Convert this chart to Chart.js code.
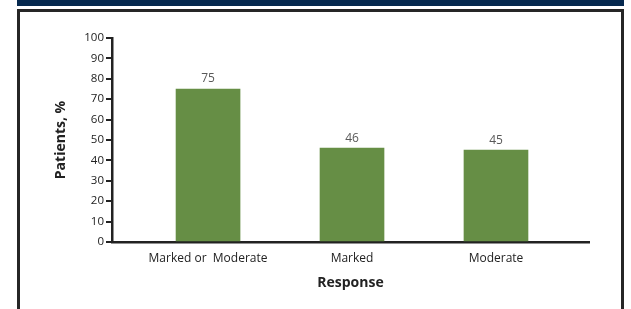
<!DOCTYPE html>
<html lang="en">
<head>
    <meta charset="UTF-8">
    <title>Patients by Response</title>
    <script src="https://cdn.jsdelivr.net/npm/chart.js"></script>
    <style>
        body { margin: 0; width: 631px; height: 309px; background: #fff; position: relative; overflow: hidden; }
        .band { position: absolute; left: 17px; top: 0; width: 607px; height: 6px; background: #06294f; }
        .frame { position: absolute; left: 17px; top: 9px; width: 601px; height: 310px;
                 border: 3px solid #262626; border-bottom: none; }
        .chart-box { position: absolute; left: 0; top: 0; width: 631px; height: 309px; }
    </style>
</head>
<body>
    <div class="band"></div>
    <div class="frame"></div>
    <div class="chart-box">
        <canvas id="barChart" width="631" height="309"></canvas>
    </div>

    <script>
        // Chart data
        const categories = ['Marked or  Moderate', 'Marked', 'Moderate'];
        const patientPct = [75, 46, 45];
        const yTicks = [0, 10, 20, 30, 40, 50, 60, 70, 80, 90, 100];

        const fontFamily = '"Open Sans", Lato, sans-serif';

        // Value labels on top of the bars
        const valueLabels = {
            id: 'valueLabels',
            afterDatasetsDraw(chart) {
                const ctx = chart.ctx;
                const meta = chart.getDatasetMeta(0);
                ctx.save();
                ctx.font = '12px ' + fontFamily;
                ctx.fillStyle = '#595959';
                ctx.textAlign = 'center';
                ctx.textBaseline = 'bottom';
                meta.data.forEach((bar, i) => {
                    ctx.fillText(patientPct[i], bar.x, bar.y - 4);
                });
                ctx.restore();
            }
        };

        const ctx = document.getElementById('barChart').getContext('2d');
        new Chart(ctx, {
            type: 'bar',
            data: {
                datasets: [{
                    data: patientPct.map((v, i) => ({ x: i, y: v })),
                    backgroundColor: '#668e45',
                    barThickness: 64
                }]
            },
            options: {
                responsive: false,
                animation: false,
                layout: { padding: { left: 0, right: 42, top: 38, bottom: 0 } },
                plugins: { legend: { display: false }, tooltip: { enabled: false } },
                scales: {
                    x: {
                        type: 'linear',
                        offset: false,
                        min: -0.667,
                        max: 2.646,
                        afterBuildTicks: (scale) => {
                            scale.ticks = categories.map((c, i) => ({ value: i }));
                        },
                        afterFit: (scale) => { scale.height = 67; },
                        grid: { display: false },
                        border: { display: true, color: '#222', width: 2.5 },
                        ticks: {
                            autoSkip: false,
                            maxRotation: 0,
                            padding: 1,
                            color: '#222',
                            font: { family: fontFamily, size: 12 },
                            callback: (value) => categories[value]
                        },
                        title: {
                            display: true,
                            text: 'Response',
                            color: '#222',
                            font: { family: fontFamily, size: 14, weight: 'bold' },
                            padding: { top: 0, bottom: 17.5 }
                        }
                    },
                    y: {
                        min: 0,
                        max: 100,
                        afterBuildTicks: (scale) => {
                            scale.ticks = yTicks.map(v => ({ value: v }));
                        },
                        afterFit: (scale) => { scale.width = 112; },
                        grid: {
                            drawOnChartArea: false,
                            drawTicks: true,
                            tickLength: 6,
                            color: '#222',
                            lineWidth: 2
                        },
                        border: { display: true, color: '#222', width: 2.5 },
                        ticks: {
                            padding: 2,
                            color: '#222',
                            font: { family: fontFamily, size: 11.5 }
                        },
                        title: {
                            display: true,
                            text: 'Patients, %',
                            color: '#222',
                            font: { family: fontFamily, size: 14, weight: 'bold' },
                            padding: { top: 52.5, bottom: 0 }
                        }
                    }
                }
            },
            plugins: [valueLabels]
        });
    </script>
</body>
</html>
